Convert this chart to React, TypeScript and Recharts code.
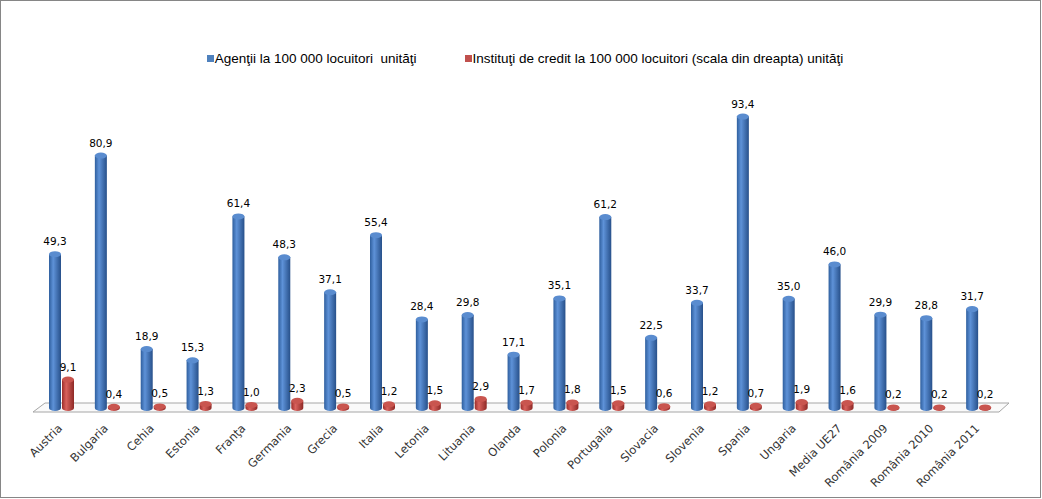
import { BarChart, Bar, XAxis, YAxis, LabelList, Customized } from "recharts";

const categories = [
  "Austria", "Bulgaria", "Cehia", "Estonia", "Franţa", "Germania", "Grecia",
  "Italia", "Letonia", "Lituania", "Olanda", "Polonia", "Portugalia", "Slovacia",
  "Slovenia", "Spania", "Ungaria", "Media UE27", "România 2009", "România 2010", "România 2011",
];
const agenti = [49.3, 80.9, 18.9, 15.3, 61.4, 48.3, 37.1, 55.4, 28.4, 29.8, 17.1, 35.1, 61.2, 22.5, 33.7, 93.4, 35.0, 46.0, 29.9, 28.8, 31.7];
const institutii = [9.1, 0.4, 0.5, 1.3, 1.0, 2.3, 0.5, 1.2, 1.5, 2.9, 1.7, 1.8, 1.5, 0.6, 1.2, 0.7, 1.9, 1.6, 0.2, 0.2, 0.2];
const seriesNames = [
  "Agenţii la 100 000 locuitori  unităţi",
  "Instituţi de credit la 100 000 locuitori (scala din dreapta) unităţi",
];

const data = categories.map((c, i) => ({ name: c, agenti: agenti[i], institutii: institutii[i] }));

const W = 1042;
const H = 499;
const margin = { top: 96, right: 40, left: 39, bottom: 0 };
const xAxisHeight = 91;

const fmt = (v: number) => v.toFixed(1).replace(".", ",");

function Cylinder(props: any) {
  const { x, y, width: w, height: h, gradId, topFill } = props;
  if (w == null || x == null) return null;
  const rx = w / 2;
  const ry = 3;
  const body = `M${x},${y} L${x},${y + h} A${rx},${ry} 0 0 0 ${x + w},${y + h} L${x + w},${y} Z`;
  return (
    <g>
      <path d={body} fill={`url(#${gradId})`} />
      <ellipse cx={x + rx} cy={y} rx={rx} ry={ry} fill={topFill} />
    </g>
  );
}

function CategoryTick(props: any) {
  const { x, y, payload } = props;
  const tx = x + 1;
  const ty = y + 21;
  return (
    <text
      x={tx}
      y={ty}
      transform={`rotate(-45 ${tx} ${ty})`}
      textAnchor="end"
      fontFamily="'DejaVu Sans', sans-serif"
      fontSize={11.5}
      fill="#333"
    >
      {payload.value}
    </text>
  );
}

// thin 3D floor under the bars, from the plot area bounds
function Floor() {
  const left = margin.left;
  const right = W - margin.right;
  const bottom = H - margin.bottom - xAxisHeight;
  const pts = [
    [left - 6, bottom + 4],
    [right - 3, bottom + 4],
    [right + 7, bottom - 5],
    [left + 6, bottom - 5],
  ];
  return (
    <polygon
      points={pts.map((p) => p.join(",")).join(" ")}
      fill="#fafafa"
      stroke="#a6a6a6"
      strokeWidth={1}
    />
  );
}

const labelStyle = { fontFamily: "'DejaVu Sans', Verdana, sans-serif", fontSize: 10.5, fill: "#000" };

export default function App() {
  return (
    <div style={{ position: "fixed", left: 0, top: 0, width: W, height: H, background: "#fff" }}>
      <div
        style={{
          position: "absolute",
          left: 0,
          top: 0,
          width: W - 3,
          height: H - 3,
          border: "1px solid #868686",
        }}
      />
      <div
        style={{
          position: "absolute",
          top: 51,
          left: 0,
          width: 1050,
          display: "flex",
          justifyContent: "center",
          gap: 48,
          fontFamily: "'Liberation Sans Narrow', 'Arial Narrow', sans-serif",
          fontSize: 13.5,
          color: "#000",
        }}
      >
        {seriesNames.map((n, i) => (
          <div key={n} style={{ display: "flex", alignItems: "center", gap: 1, whiteSpace: "pre" }}>
            <div style={{ width: 7, height: 7, background: i === 0 ? "#4F81BD" : "#C0504D" }} />
            <span>{n}</span>
          </div>
        ))}
      </div>
      <div style={{ position: "absolute", left: 0, top: 0 }}>
        <BarChart width={W} height={H} data={data} margin={margin} barSize={12} barGap={1} barCategoryGap="22%">
          <defs>
            <linearGradient id="gBlue" x1="0" y1="0" x2="1" y2="0">
              <stop offset="0%" stopColor="#2f5f9e" />
              <stop offset="35%" stopColor="#5e92d8" />
              <stop offset="100%" stopColor="#27508a" />
            </linearGradient>
            <linearGradient id="gRed" x1="0" y1="0" x2="1" y2="0">
              <stop offset="0%" stopColor="#9c2d2a" />
              <stop offset="35%" stopColor="#d9625d" />
              <stop offset="100%" stopColor="#8e2926" />
            </linearGradient>
          </defs>
          <Customized component={<Floor />} />
          <XAxis
            dataKey="name"
            axisLine={false}
            tickLine={false}
            tickSize={0}
            tickMargin={0}
            height={xAxisHeight}
            interval={0}
            tick={<CategoryTick />}
          />
          <YAxis hide domain={[0, 100]} />
          <Bar
            dataKey="agenti"
            isAnimationActive={false}
            shape={(p: any) => <Cylinder {...p} gradId="gBlue" topFill="#5a8ccf" />}
          >
            <LabelList dataKey="agenti" position="top" offset={9} formatter={(v: any) => fmt(Number(v))} style={labelStyle} />
          </Bar>
          <Bar
            dataKey="institutii"
            isAnimationActive={false}
            shape={(p: any) => <Cylinder {...p} gradId="gRed" topFill="#c9554f" />}
          >
            <LabelList dataKey="institutii" position="top" offset={9} formatter={(v: any) => fmt(Number(v))} style={labelStyle} />
          </Bar>
        </BarChart>
      </div>
    </div>
  );
}
